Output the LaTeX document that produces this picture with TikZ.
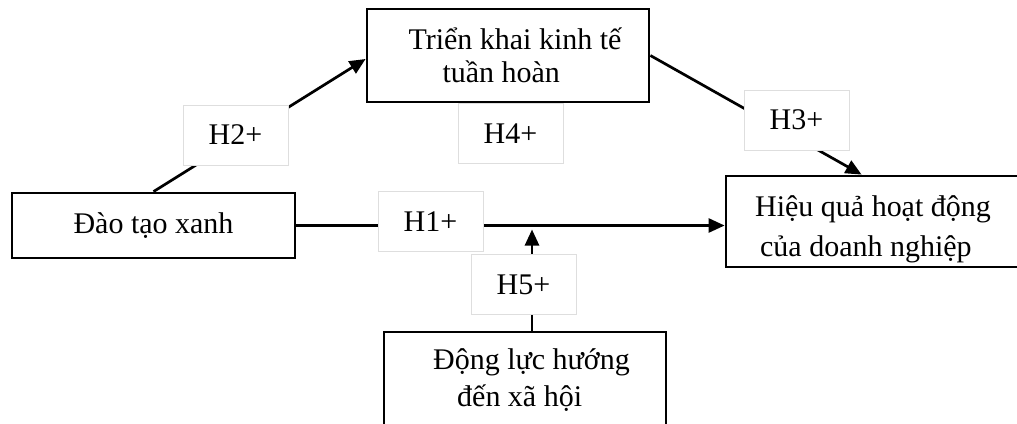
\documentclass[tikz,border=0pt]{standalone}
\usepackage{fontspec}
\setmainfont{Liberation Serif}
\usetikzlibrary{arrows.meta,calc}
\definecolor{lblgray}{RGB}{222,222,222}
\begin{document}
\begin{tikzpicture}[x=1bp,y=-1bp,
  box/.style={draw=black, line width=2.8bp, fill=white, inner sep=0pt, align=left, font=\fontsize{30.1}{34}\selectfont},
  hyp/.style={draw=lblgray, line width=0.8bp, fill=white, minimum width=105bp, minimum height=60bp, inner sep=0pt, font=\fontsize{30.1}{36}\selectfont},
  conn/.style={line width=2.7bp},
  arr/.style={conn, -{Triangle[length=16bp,width=14bp]}}]
\useasboundingbox (0,0) rectangle (1017,423);
\clip (0,0) rectangle (1017,423);
% main boxes
\node[box, minimum width=282bp, minimum height=93bp, font=\fontsize{30.1}{33.5}\selectfont] (tb) at (508,55.5) {\hspace*{14bp}Triển khai kinh tế\\\hspace*{48bp}tuần hoàn};
\node[box, minimum width=283bp, minimum height=65bp] (lb) at (153.5,225.5) {Đào tạo xanh};
\node[box, minimum width=294bp, minimum height=91bp, font=\fontsize{30.1}{40}\selectfont] (rb) at (873,221.5) {\rule{0pt}{36bp}Hiệu quả hoạt động\\\hspace*{5bp}của doanh nghiệp};
\node[box, minimum width=282bp, minimum height=96bp, font=\fontsize{30.1}{37}\selectfont] (bb) at (525,380) {\hspace*{13bp}Động lực hướng\\\hspace*{37bp}đến xã hội};
% connectors
\draw[arr] (lb.north) -- ([yshift=-3.5bp]tb.west);
\draw[arr] (tb.east) -- ($(rb.north west)+(137,0)$);
\draw[arr] (lb.east) -- (lb.east -| rb.west);
\coordinate (h5tip) at (532,229.5);
\draw[arr] (h5tip |- bb.north) -- (h5tip);
% hypothesis labels
\node[hyp] (h2) at (235.5,135) {H2+};
\node[hyp] (h4) at (510.5,133.5) {H4+};
\node[hyp] (h3) at (796.5,120) {H3+};
\node[hyp] (h1) at (430.5,221.5) {H1+};
\node[hyp] (h5) at (523.5,284.5) {H5+};
\end{tikzpicture}
\end{document}
